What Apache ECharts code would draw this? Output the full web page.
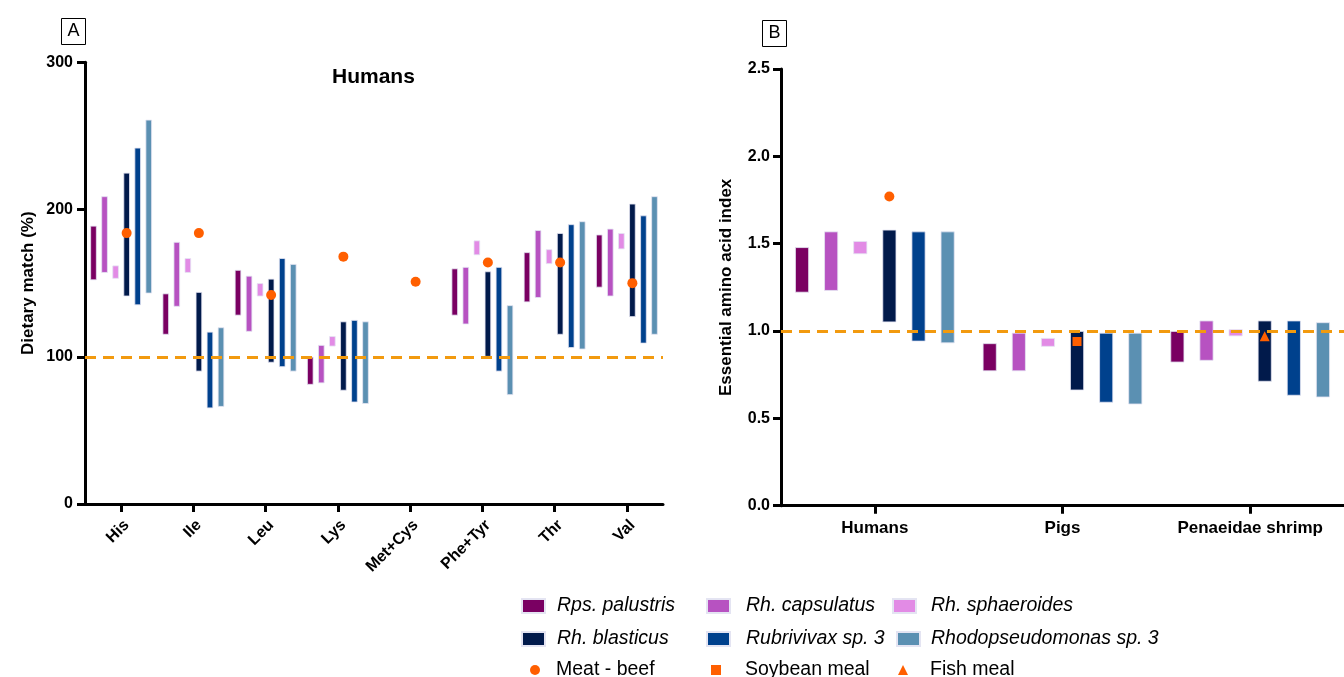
<!DOCTYPE html>
<html>
<head>
<meta charset="utf-8">
<script src="https://cdn.jsdelivr.net/npm/echarts@6/dist/echarts.min.js"></script>
<style>
  html, body { margin: 0; padding: 0; background: #fff; }
  #chart { width: 1344px; height: 677px; }
</style>
</head>
<body>
<div id="chart"></div>
<script>
const aminoAcids = ["His", "Ile", "Leu", "Lys", "Met+Cys", "Phe+Tyr", "Thr", "Val"];
const animals = ["Humans", "Pigs", "Penaeidae shrimp"];
const speciesNames = [
  "Rps. palustris", "Rh. capsulatus", "Rh. sphaeroides",
  "Rh. blasticus", "Rubrivivax sp. 3", "Rhodopseudomonas sp. 3",
];
const markerNames = ["Meat - beef", "Soybean meal", "Fish meal"];
const speciesColors = ["#7a0062", "#b752c1", "#e28be5", "#011a4b", "#00418d", "#5b90b2"];
const MARKER_COLOR = "#ff5f00";
const REF_COLOR = "#f29a0f";
const FONT = "Liberation Sans, Arial, sans-serif";

// panel A: dietary match (%) ranges [low, high], null = no value
const palustrisA = [[152, 189], [115, 143], [128, 159], [81, 100], null, [128, 160], [137, 171], [147, 183]];
const capsulatusA = [[157, 209], [134, 178], [117, 155], [82, 108], null, [122, 161], [140, 186], [141, 187]];
const sphaeroidesA = [[153, 162], [157, 167], [141, 150], [107, 114], null, [169, 179], [163, 173], [173, 184]];
const blasticusA = [[141, 225], [90, 144], [96, 153], [77, 124], null, [100, 158], [115, 184], [127, 204]];
const rubrivivaxA = [[135, 242], [65, 117], [93, 167], [69, 125], null, [90, 161], [106, 190], [109, 196]];
const rhodopseudoA = [[143, 261], [66, 120], [90, 163], [68, 124], null, [74, 135], [105, 192], [115, 209]];
const beefA = [184, 184, 142, 168, 151, 164, 164, 150];

// panel B: essential amino acid index ranges [low, high]
const palustrisB = [[1.22, 1.48], [0.77, 0.93], [0.82, 1.0]];
const capsulatusB = [[1.23, 1.57], [0.77, 0.99], [0.83, 1.06]];
const sphaeroidesB = [[1.44, 1.515], [0.91, 0.96], [0.97, 1.01]];
const blasticusB = [[1.05, 1.58], [0.66, 1.0], [0.71, 1.06]];
const rubrivivaxB = [[0.94, 1.57], [0.59, 0.99], [0.63, 1.06]];
const rhodopseudoB = [[0.93, 1.57], [0.58, 0.99], [0.62, 1.05]];
const beefB = [1.77, "-", "-"];
const soybeanB = ["-", 0.94, "-"];
const fishB = ["-", "-", 0.97];

const rangesA = [palustrisA, capsulatusA, sphaeroidesA, blasticusA, rubrivivaxA, rhodopseudoA];
const rangesB = [palustrisB, capsulatusB, sphaeroidesB, blasticusB, rubrivivaxB, rhodopseudoB];

// floating bar = transparent base + visible span, one stack per species
function floatingBars(pairs, i, axis, barWidth, barGap) {
  const stack = "s" + axis + "_" + i;
  const common = { type: "bar", xAxisIndex: axis, yAxisIndex: axis, stack, barWidth, barGap };
  return [
    { ...common, silent: true, itemStyle: { color: "transparent" },
      data: pairs.map((p) => (p ? p[0] : "-")) },
    { ...common, name: speciesNames[i],
      itemStyle: { color: speciesColors[i], borderColor: "#e4e4f2", borderWidth: 0.8 },
      data: pairs.map((p) => (p ? +(p[1] - p[0]).toFixed(3) : "-")) },
  ];
}

const refLine = (v) => ({
  silent: true, symbol: "none", label: { show: false },
  lineStyle: { color: REF_COLOR, type: [11, 7], width: 3 },
  data: [{ yAxis: v }],
});

const axisLine = { show: true, lineStyle: { color: "#000", width: 3 } };
const axisTick = { show: true, length: 8, lineStyle: { color: "#000", width: 3 } };
const boldLabel = { color: "#000", fontFamily: FONT, fontWeight: "bold", fontSize: 16 };
const dot = { color: MARKER_COLOR, opacity: 1 };

const series = [];
rangesA.forEach((p, i) => series.push(...floatingBars(p, i, 0, 6.5, "70%")));
rangesB.forEach((p, i) => series.push(...floatingBars(p, i, 1, 14, "108%")));
series.push(
  { name: markerNames[0], type: "scatter", xAxisIndex: 0, yAxisIndex: 0, z: 5,
    symbol: "circle", symbolSize: 10, symbolOffset: [5.5, 0],
    itemStyle: dot, data: beefA, markLine: refLine(100) },
  { name: markerNames[0], type: "scatter", xAxisIndex: 1, yAxisIndex: 1, z: 5,
    symbol: "circle", symbolSize: 10, symbolOffset: [14.5, 0],
    itemStyle: dot, data: beefB, markLine: refLine(1) },
  { name: markerNames[1], type: "scatter", xAxisIndex: 1, yAxisIndex: 1, z: 6,
    symbol: "rect", symbolSize: 9, symbolOffset: [14.5, 0],
    itemStyle: dot, data: soybeanB },
  { name: markerNames[2], type: "scatter", xAxisIndex: 1, yAxisIndex: 1, z: 6,
    symbol: "triangle", symbolSize: 10, symbolOffset: [14.5, 0],
    itemStyle: dot, data: fishB }
);

// legend: one block per entry so the three columns line up
// [left, top, gap from icon to text]
const legendSpots = [
  [521, 596, 7], [706, 596, 11], [892, 596, 10],
  [521, 629, 7], [706, 629, 11], [896, 629, 6],
];
const legends = speciesNames.map((n, i) => ({
  data: [{ name: n, icon: "rect" }], left: legendSpots[i][0], top: legendSpots[i][1],
  padding: 0, itemWidth: 23, itemHeight: 14, selectedMode: false,
  textStyle: { fontFamily: FONT, fontStyle: "italic", fontSize: 19.5, color: "#000",
    padding: [0, 0, 0, legendSpots[i][2]] },
}));
const markerSpots = [[530, 660, 11, "circle"], [711, 660, 19, "rect"], [898, 660, 17, "triangle"]];
markerNames.forEach((n, i) => legends.push({
  data: [{ name: n, icon: markerSpots[i][3] }],
  left: markerSpots[i][0], top: markerSpots[i][1],
  padding: 0, itemWidth: 10, itemHeight: 10, selectedMode: false,
  textStyle: { fontFamily: FONT, fontSize: 19.5, color: "#000",
    padding: [0, 0, 0, markerSpots[i][2]] },
}));

const panelBox = (x, y, label) => ({
  type: "group", left: x, top: y,
  children: [
    { type: "rect", shape: { x: 0, y: 0, width: 24, height: 26 },
      style: { fill: "#fff", stroke: "#000", lineWidth: 1 } },
    { type: "text", x: 12, y: 13,
      style: { text: label, fontFamily: FONT, fontSize: 18, fill: "#000",
        align: "center", verticalAlign: "middle" } },
  ],
});

const option = {
  animation: false,
  backgroundColor: "#fff",
  legend: legends,
  graphic: [
    panelBox(61, 18, "A"),
    panelBox(762, 20, "B"),
    { type: "text", left: 332, top: 67,
      style: { text: "Humans", fontFamily: FONT, fontWeight: "bold", fontSize: 21, fill: "#000" } },
  ],
  grid: [
    { left: 85, top: 62.3, width: 578, height: 441.7 },
    { left: 781, top: 69, width: 572, height: 436.7 },
  ],
  xAxis: [
    { type: "category", gridIndex: 0, data: aminoAcids,
      axisLine, axisTick: { ...axisTick, alignWithLabel: true },
      axisLabel: { ...boldLabel, rotate: 45, margin: 13, interval: 0,
        align: "right", verticalAlign: "top" } },
    { type: "category", gridIndex: 1, data: animals,
      axisLine, axisTick: { ...axisTick, alignWithLabel: true },
      axisLabel: { ...boldLabel, fontSize: 17, margin: 14, interval: 0 } },
  ],
  yAxis: [
    { type: "value", gridIndex: 0, min: 0, max: 300, interval: 100,
      name: "Dietary match (%)", nameLocation: "middle", nameGap: 48,
      nameTextStyle: { ...boldLabel, fontSize: 17 },
      axisLine, axisTick, splitLine: { show: false },
      axisLabel: { ...boldLabel, margin: 12 } },
    { type: "value", gridIndex: 1, min: 0, max: 2.5, interval: 0.5,
      name: "Essential amino acid index", nameLocation: "middle", nameGap: 46,
      nameTextStyle: { ...boldLabel, fontSize: 17 },
      axisLine, axisTick, splitLine: { show: false },
      axisLabel: { ...boldLabel, margin: 11, formatter: (v) => v.toFixed(1) } },
  ],
  series,
};

const chart = echarts.init(document.getElementById("chart"));
chart.setOption(option);
</script>
</body>
</html>
